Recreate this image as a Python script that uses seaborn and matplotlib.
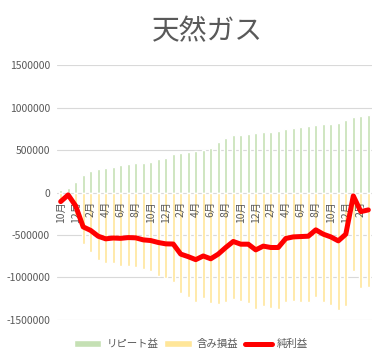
import matplotlib
matplotlib.use("Agg")
import matplotlib.pyplot as plt
import pandas as pd
import seaborn as sns

# data
months = ['10月', '11月', '12月',
          '1月', '2月', '3月', '4月', '5月', '6月', '7月', '8月', '9月', '10月', '11月', '12月',
          '1月', '2月', '3月', '4月', '5月', '6月', '7月', '8月', '9月', '10月', '11月', '12月',
          '1月', '2月', '3月', '4月', '5月', '6月', '7月', '8月', '9月', '10月', '11月', '12月',
          '1月', '2月', '3月']

repeat_gain = [27000, 55000, 120000, 204000, 250000, 278000, 290000, 298000, 322000, 333000,
               345000, 345000, 360000, 392000, 408000, 451000, 463000, 475000, 494000, 498000,
               522000, 592000, 640000, 675000, 675000, 690000, 702000, 710000, 714000, 725000,
               745000, 757000, 773000, 780000, 792000, 804000, 808000, 820000, 851000, 886000,
               898000, 910000]

unrealized = [-133000, -82000, -277000, -606000, -696000, -792000, -835000, -833000, -861000, -863000,
              -878000, -903000, -925000, -980000, -1012000, -1057000, -1188000, -1230000, -1284000, -1245000,
              -1298000, -1317000, -1287000, -1251000, -1283000, -1298000, -1377000, -1341000, -1361000, -1372000,
              -1286000, -1279000, -1291000, -1294000, -1231000, -1294000, -1330000, -1389000, -1341000, -925000,
              -1122000, -1114000]

net_profit = [-106000, -27000, -157000, -404000, -446000, -514000, -545000, -535000, -539000, -530000,
              -533000, -557000, -565000, -588000, -604000, -606000, -725000, -755000, -790000, -747000,
              -780000, -725000, -647000, -576000, -608000, -608000, -675000, -631000, -647000, -647000,
              -541000, -522000, -518000, -514000, -439000, -490000, -522000, -569000, -490000, -39000,
              -224000, -204000]

df = pd.DataFrame({
    'idx': range(len(months)),
    'repeat': repeat_gain,
    'unreal': unrealized,
    'net': net_profit,
})

sns.set_style("white")
plt.rcParams['font.family'] = ['Noto Sans CJK JP', 'DejaVu Sans']

fig = plt.figure(figsize=(3.82, 3.57), dpi=100)
ax = fig.add_axes([0.149, 0.104, 0.825, 0.713])

sns.barplot(data=df, x='idx', y='repeat', color='#C5E0B4', width=0.36,
            saturation=1, ax=ax, label='リピート益', zorder=2)
sns.barplot(data=df, x='idx', y='unreal', color='#FFE699', width=0.36,
            saturation=1, ax=ax, label='含み損益', zorder=2)
sns.lineplot(data=df, x='idx', y='net', color='#FF0000', lw=3.6, ax=ax,
             label='純利益', zorder=3, solid_joinstyle='round', solid_capstyle='round')

ax.set_xlim(-0.5, len(months) - 0.5)
ax.set_ylim(-1500000, 1500000)
yt = [-1500000, -1000000, -500000, 0, 500000, 1000000, 1500000]
ax.set_yticks(yt)
ax.set_yticklabels([str(v) for v in yt])
ax.set_xticks(range(0, len(months), 2))
ax.set_xticklabels(months[::2])
ax.tick_params(axis='y', length=0, pad=5, labelsize=7.5, labelcolor='#595959')
ax.tick_params(axis='x', length=0, pad=6, labelsize=7.5, labelcolor='#595959',
               labelrotation=90)
ax.set_xlabel('')
ax.set_ylabel('')

ax.yaxis.grid(True, color='#D9D9D9', lw=0.8)
ax.xaxis.grid(False)
ax.set_axisbelow(True)
# month labels sit on top of the bars but under the red line
ax.xaxis.set_zorder(2.5)
for s in ['top', 'right', 'left']:
    ax.spines[s].set_visible(False)
ax.spines['bottom'].set_position(('data', 0))
ax.spines['bottom'].set_color('none')

handles, labels = ax.get_legend_handles_labels()
if ax.get_legend() is not None:
    ax.get_legend().remove()
order = ['リピート益', '含み損益', '純利益']
pairs = dict(zip(labels, handles))
fig.legend([pairs[k] for k in order], order, loc='center', bbox_to_anchor=(0.5, 0.036),
           ncol=3, frameon=False, fontsize=7.5, handlelength=2.6, handletextpad=0.5,
           columnspacing=0.6, labelcolor='#595959')

fig.text(207 / 382, 1 - 31 / 357, '天然ガス', fontsize=20, color='#595959',
         ha='center', va='center')

fig.savefig('out.png', dpi=100)
